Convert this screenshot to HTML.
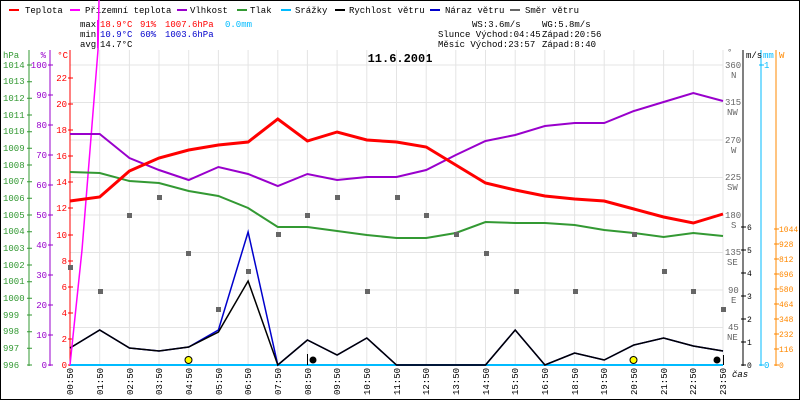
<!DOCTYPE html>
<html><head><meta charset="utf-8"><style>
body{margin:0;background:#fff}
svg{display:block;font-family:"Liberation Mono",monospace;font-size:9px}
</style></head><body>
<svg width="800" height="400" viewBox="0 0 800 400" xmlns="http://www.w3.org/2000/svg">
<rect x="0.5" y="0.5" width="799" height="399" fill="#fff" stroke="#000"/>
<!-- legend -->
<g>
<rect x="9" y="9" width="10" height="2" fill="#f00"/><text x="25" y="13">Teplota</text>
<rect x="70" y="9" width="10" height="2" fill="#f0f"/><text x="85" y="13">Přízemní teplota</text>
<rect x="177" y="9" width="10" height="2" fill="#90c"/><text x="190" y="13">Vlhkost</text>
<rect x="237" y="9" width="10" height="2" fill="#393"/><text x="250" y="13">Tlak</text>
<rect x="281" y="9" width="10" height="2" fill="#0bf"/><text x="295" y="13">Srážky</text>
<rect x="335" y="9" width="10" height="2" fill="#000"/><text x="349" y="13">Rychlost větru</text>
<rect x="430" y="9" width="10" height="2" fill="#00c"/><text x="445" y="13">Náraz větru</text>
<rect x="510" y="9" width="10" height="2" fill="#666"/><text x="525" y="13">Směr větru</text>
</g>
<text x="80" y="27">max</text><text x="100" y="27" fill="#f00">18.9°C</text><text x="140" y="27" fill="#f00">91%</text><text x="165" y="27" fill="#f00">1007.6hPa</text><text x="225" y="27" fill="#0bf">0.0mm</text>
<text x="80" y="37">min</text><text x="100" y="37" fill="#00c">10.9°C</text><text x="140" y="37" fill="#00c">60%</text><text x="165" y="37" fill="#00c">1003.6hPa</text>
<text x="80" y="47">avg</text><text x="100" y="47">14.7°C</text>
<line x1="97.5" y1="20" x2="97.5" y2="48" stroke="#f0f"/>
<text x="472" y="27">WS:3.6m/s</text><text x="542" y="27">WG:5.8m/s</text>
<text x="438" y="37">Slunce Východ:04:45</text><text x="542" y="37">Západ:20:56</text>
<text x="438" y="47">Měsíc  Východ:23:57</text><text x="542" y="47">Západ:8:40</text>
<text x="400" y="62" text-anchor="middle" font-weight="bold" font-size="12">11.6.2001</text>
<!-- grid -->
<g stroke="#e4e4e4">
<line x1="70" x2="723" y1="327.5" y2="327.5"/><line x1="70" x2="723" y1="290" y2="290"/><line x1="70" x2="723" y1="252.5" y2="252.5"/><line x1="70" x2="723" y1="215" y2="215"/><line x1="70" x2="723" y1="177.5" y2="177.5"/><line x1="70" x2="723" y1="140" y2="140"/><line x1="70" x2="723" y1="102.5" y2="102.5"/><line x1="70" x2="723" y1="65" y2="65"/>
<line x1="99.7" x2="99.7" y1="50" y2="365"/><line x1="129.4" x2="129.4" y1="50" y2="365"/><line x1="159" x2="159" y1="50" y2="365"/><line x1="188.7" x2="188.7" y1="50" y2="365"/><line x1="218.4" x2="218.4" y1="50" y2="365"/><line x1="248.1" x2="248.1" y1="50" y2="365"/><line x1="277.8" x2="277.8" y1="50" y2="365"/><line x1="307.4" x2="307.4" y1="50" y2="365"/><line x1="337.1" x2="337.1" y1="50" y2="365"/><line x1="366.8" x2="366.8" y1="50" y2="365"/><line x1="396.5" x2="396.5" y1="50" y2="365"/><line x1="426.2" x2="426.2" y1="50" y2="365"/><line x1="455.8" x2="455.8" y1="50" y2="365"/><line x1="485.5" x2="485.5" y1="50" y2="365"/><line x1="515.2" x2="515.2" y1="50" y2="365"/><line x1="544.9" x2="544.9" y1="50" y2="365"/><line x1="574.6" x2="574.6" y1="50" y2="365"/><line x1="604.2" x2="604.2" y1="50" y2="365"/><line x1="633.9" x2="633.9" y1="50" y2="365"/><line x1="663.6" x2="663.6" y1="50" y2="365"/><line x1="693.3" x2="693.3" y1="50" y2="365"/><line x1="723" x2="723" y1="50" y2="365"/>
</g>
<!-- left axes -->
<line x1="29" y1="50" x2="29" y2="366" stroke="#393"/>
<line x1="50" y1="50" x2="50" y2="366" stroke="#90c"/>
<line x1="70" y1="50" x2="70" y2="366" stroke="#f00"/>
<g stroke="#393"><path d="M27 65h5M27 81.7h5M27 98.3h5M27 115h5M27 131.7h5M27 148.3h5M27 165h5M27 181.7h5M27 198.3h5M27 215h5M27 231.7h5M27 248.3h5M27 265h5M27 281.7h5M27 298.3h5M27 315h5M27 331.7h5M27 348.3h5M27 365h5"/></g>
<g stroke="#90c"><path d="M48 65h5M48 95h5M48 125h5M48 155h5M48 185h5M48 215h5M48 245h5M48 275h5M48 305h5M48 335h5M48 365h5"/></g>
<g stroke="#f00"><path d="M68 78h5M68 104h5M68 130h5M68 156h5M68 182h5M68 208h5M68 235h5M68 261h5M68 287h5M68 313h5M68 339h5M68 365h5"/></g>
<g fill="#393"><text x="3" y="58">hPa</text>
<text x="3" y="68">1014</text><text x="3" y="84">1013</text><text x="3" y="101">1012</text><text x="3" y="118">1011</text><text x="3" y="134">1010</text><text x="3" y="151">1009</text><text x="3" y="168">1008</text><text x="3" y="184">1007</text><text x="3" y="201">1006</text><text x="3" y="218">1005</text><text x="3" y="234">1004</text><text x="3" y="251">1003</text><text x="3" y="268">1002</text><text x="3" y="284">1001</text><text x="3" y="301">1000</text><text x="3" y="318">999</text><text x="3" y="334">998</text><text x="3" y="351">997</text><text x="3" y="368">996</text></g>
<g fill="#90c" text-anchor="end"><text x="46" y="58">%</text>
<text x="47" y="68">100</text><text x="47" y="98">90</text><text x="47" y="128">80</text><text x="47" y="158">70</text><text x="47" y="188">60</text><text x="47" y="218">50</text><text x="47" y="248">40</text><text x="47" y="278">30</text><text x="47" y="308">20</text><text x="47" y="338">10</text><text x="47" y="368">0</text></g>
<g fill="#f00" text-anchor="end"><text x="68" y="58">°C</text>
<text x="67" y="81">22</text><text x="67" y="107">20</text><text x="67" y="133">18</text><text x="67" y="159">16</text><text x="67" y="185">14</text><text x="67" y="211">12</text><text x="67" y="238">10</text><text x="67" y="264">8</text><text x="67" y="290">6</text><text x="67" y="316">4</text><text x="67" y="342">2</text><text x="67" y="368">0</text></g>
<!-- right axes -->
<line x1="743" y1="50" x2="743" y2="366" stroke="#000"/>
<line x1="761" y1="50" x2="761" y2="366" stroke="#0bf"/>
<line x1="776" y1="50" x2="776" y2="366" stroke="#f80"/>
<g stroke="#000"><path d="M741 227h5M741 250h5M741 273h5M741 296h5M741 319h5M741 342h5M741 365h5"/></g>
<g stroke="#0bf"><path d="M759 65h5M759 365h5"/></g>
<g stroke="#f80"><path d="M774 229h5M774 244h5M774 259h5M774 274h5M774 289h5M774 304h5M774 319h5M774 334h5M774 349h5M774 365h5"/></g>
<text x="746" y="58">m/s</text><text x="763" y="58" fill="#0bf">mm</text><text x="779" y="58" fill="#f80">W</text>
<text x="727" y="55" fill="#666">°</text>
<g fill="#666"><text x="725" y="68">360</text><text x="731" y="78">N</text>
<text x="725" y="105">315</text><text x="727" y="115">NW</text>
<text x="725" y="143">270</text><text x="731" y="153">W</text>
<text x="725" y="180">225</text><text x="727" y="190">SW</text>
<text x="725" y="218">180</text><text x="731" y="228">S</text>
<text x="725" y="255">135</text><text x="727" y="265">SE</text>
<text x="728" y="293">90</text><text x="731" y="303">E</text>
<text x="728" y="330">45</text><text x="727" y="340">NE</text></g>
<g font-size="8"><text x="747" y="230">6</text><text x="747" y="253">5</text><text x="747" y="276">4</text><text x="747" y="299">3</text><text x="747" y="322">2</text><text x="747" y="345">1</text><text x="747" y="368">0</text></g>
<text x="764" y="68" fill="#0bf">1</text><text x="764" y="368" fill="#0bf">0</text>
<g fill="#f80" font-size="8"><text x="779" y="232">1044</text><text x="779" y="247">928</text><text x="779" y="262">812</text><text x="779" y="277">696</text><text x="779" y="292">580</text><text x="779" y="307">464</text><text x="779" y="322">348</text><text x="779" y="337">232</text><text x="779" y="352">116</text><text x="779" y="368">0</text></g>
<text x="732" y="377" font-style="italic">čas</text>
<!-- series -->
<line x1="70" y1="365" x2="723" y2="365" stroke="#0bf" stroke-width="2"/>
<polyline fill="none" stroke="#00c" stroke-width="1.5" points="70,348 99.7,330 129.4,348 159,351 188.7,347 218.4,330 248.1,232 277.8,365 307.4,340 337.1,355 366.8,338 396.5,365 426.2,365 455.8,365 485.5,365 515.2,330 544.9,365 574.6,353 604.2,360 633.9,345 663.6,338 693.3,346 723,351"/>
<polyline fill="none" stroke="#000" stroke-width="1.5" points="70,348 99.7,330 129.4,348 159,351 188.7,347 218.4,332 248.1,281 277.8,365 307.4,340 337.1,355 366.8,338 396.5,365 426.2,365 455.8,365 485.5,365 515.2,330 544.9,365 574.6,353 604.2,360 633.9,345 663.6,338 693.3,346 723,351"/>
<polyline fill="none" stroke="#f0f" stroke-width="1.5" points="70,365 82,250 98,50 99,0"/>
<polyline fill="none" stroke="#393" stroke-width="2" points="70,172 99.7,173 129.4,181 159,183 188.7,191 218.4,196 248.1,208 277.8,227 307.4,227 337.1,231 366.8,235 396.5,238 426.2,238 455.8,233 485.5,222 515.2,223 544.9,223 574.6,225 604.2,230 633.9,233 663.6,237 693.3,233 723,236"/>
<polyline fill="none" stroke="#90c" stroke-width="2" points="70,134 99.7,134 129.4,158 159,170 188.7,180 218.4,167 248.1,174 277.8,186 307.4,174 337.1,180 366.8,177 396.5,177 426.2,170 455.8,155 485.5,141 515.2,135 544.9,126 574.6,123 604.2,123 633.9,111 663.6,102 693.3,93 723,101"/>
<polyline fill="none" stroke="#f00" stroke-width="3" points="70,201 99.7,197 129.4,171 159,158 188.7,150 218.4,145 248.1,142 277.8,119 307.4,141 337.1,132 366.8,140 396.5,142 426.2,147 455.8,165 485.5,183 515.2,190 544.9,196 574.6,199 604.2,201 633.9,209 663.6,217 693.3,223 723,214"/>
<g fill="#666">
<rect x="68" y="265" width="5" height="5"/><rect x="98" y="289" width="5" height="5"/><rect x="127" y="213" width="5" height="5"/><rect x="157" y="195" width="5" height="5"/><rect x="186" y="251" width="5" height="5"/><rect x="216" y="307" width="5" height="5"/><rect x="246" y="269" width="5" height="5"/><rect x="276" y="232" width="5" height="5"/><rect x="305" y="213" width="5" height="5"/><rect x="335" y="195" width="5" height="5"/><rect x="365" y="289" width="5" height="5"/><rect x="395" y="195" width="5" height="5"/><rect x="424" y="213" width="5" height="5"/><rect x="454" y="232" width="5" height="5"/><rect x="484" y="251" width="5" height="5"/><rect x="514" y="289" width="5" height="5"/><rect x="573" y="289" width="5" height="5"/><rect x="632" y="232" width="5" height="5"/><rect x="662" y="269" width="5" height="5"/><rect x="691" y="289" width="5" height="5"/><rect x="721" y="307" width="5" height="5"/>
</g>
<circle cx="188.5" cy="360" r="3.5" fill="#ff0" stroke="#000"/>
<circle cx="633.5" cy="360" r="3.5" fill="#ff0" stroke="#000"/>
<circle cx="313" cy="360" r="3.5" fill="#000"/>
<circle cx="717" cy="360" r="3.5" fill="#000"/>
<line x1="307.5" y1="354" x2="307.5" y2="365" stroke="#000"/>
<line x1="723.5" y1="355" x2="723.5" y2="365" stroke="#000"/>
<!-- x labels -->
<g font-size="9">
<text transform="translate(73,395) rotate(-90)">00:50</text><text transform="translate(103,395) rotate(-90)">01:50</text><text transform="translate(133,395) rotate(-90)">02:50</text><text transform="translate(162,395) rotate(-90)">03:50</text><text transform="translate(192,395) rotate(-90)">04:50</text><text transform="translate(222,395) rotate(-90)">05:50</text><text transform="translate(251,395) rotate(-90)">06:50</text><text transform="translate(281,395) rotate(-90)">07:50</text><text transform="translate(311,395) rotate(-90)">08:50</text><text transform="translate(340,395) rotate(-90)">09:50</text><text transform="translate(370,395) rotate(-90)">10:50</text><text transform="translate(400,395) rotate(-90)">11:50</text><text transform="translate(429,395) rotate(-90)">12:50</text><text transform="translate(459,395) rotate(-90)">13:50</text><text transform="translate(489,395) rotate(-90)">14:50</text><text transform="translate(518,395) rotate(-90)">15:50</text><text transform="translate(548,395) rotate(-90)">16:50</text><text transform="translate(578,395) rotate(-90)">18:50</text><text transform="translate(607,395) rotate(-90)">19:50</text><text transform="translate(637,395) rotate(-90)">20:50</text><text transform="translate(667,395) rotate(-90)">21:50</text><text transform="translate(696,395) rotate(-90)">22:50</text><text transform="translate(726,395) rotate(-90)">23:50</text>
</g>
</svg>
</body></html>
